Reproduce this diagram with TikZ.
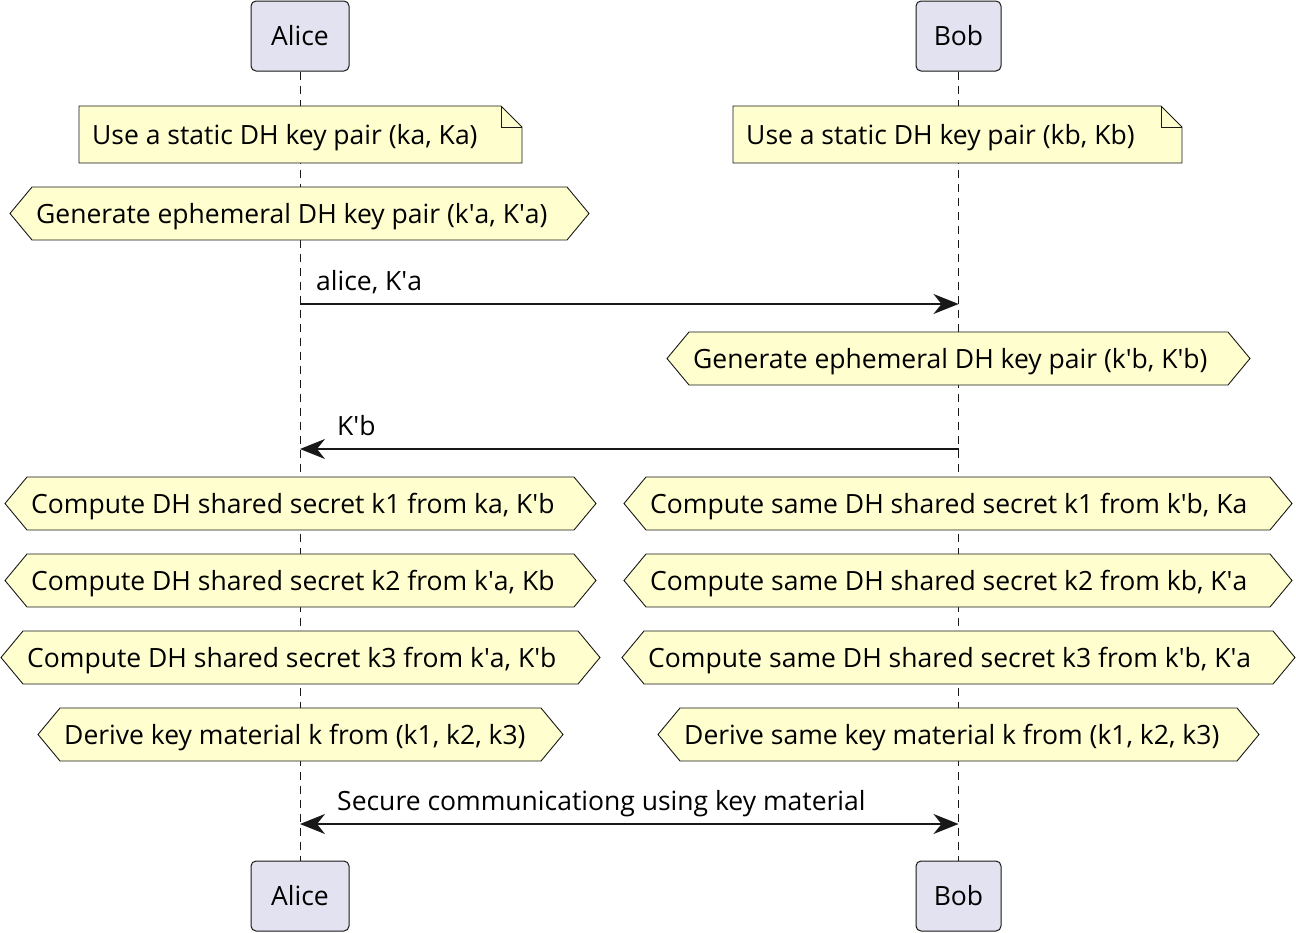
\documentclass[tikz,border=0pt]{standalone}
\usepackage{fontspec}
\setmainfont{Open Sans}
\usetikzlibrary{arrows.meta}
\definecolor{noteyellow}{HTML}{FEFECE}
\definecolor{partfill}{HTML}{E2E2F0}
\definecolor{linec}{HTML}{181818}
\newcommand{\q}{\textquotesingle}
\tikzset{
  txt/.style={inner sep=0pt, anchor=base west, font=\fontsize{26.5}{31}\selectfont, text=black},
  part/.style={draw=linec, fill=partfill, line width=1pt, rounded corners=5pt, inner sep=0pt, font=\fontsize{26.5}{31}\selectfont},
  lifeline/.style={draw=linec, line width=0.9pt, dash pattern=on 8pt off 6pt},
  shapeline/.style={draw=linec, fill=noteyellow, line width=0.9pt, line join=miter},
  msg/.style={draw=linec, line width=1.6pt, -{Stealth[length=25pt, width=20pt, inset=8pt]}},
  dmsg/.style={draw=linec, line width=1.6pt, {Stealth[length=25pt, width=20pt, inset=8pt]}-{Stealth[length=25pt, width=20pt, inset=8pt]}},
}
% name, x1, x2, yc, text
\newcommand{\hexnote}[5]{%
  \draw[shapeline] (#2,#4) -- (#2+22,#4-26.5) -- (#3-22,#4-26.5) -- (#3,#4) -- (#3-22,#4+26.5) -- (#2+22,#4+26.5) -- cycle;
  \node[txt] (#1) at (#2+26,#4+9.5) {#5};
}
% name, x1, x2, y1, y2, text
\newcommand{\foldnote}[6]{%
  \draw[shapeline] (#2,#4) -- (#3-21,#4) -- (#3,#4+21) -- (#3,#5) -- (#2,#5) -- cycle;
  \draw[draw=linec, line width=0.9pt] (#3-21,#4) -- (#3-21,#4+21) -- (#3,#4+21);
  \node[txt] (#1) at (#2+13,{(#4+#5)/2+9.5}) {#6};
}
\begin{document}
\begin{tikzpicture}[x=1pt, y=-1pt]
\useasboundingbox (0,0) rectangle (1296,932);
% participants
\node[part, minimum width=98pt, minimum height=70pt] (aliceTop) at (300,36) {Alice};
\node[part, minimum width=85pt, minimum height=70pt] (bobTop) at (958.5,36) {Bob};
\node[part, minimum width=98pt, minimum height=70pt] (aliceBot) at (300,896) {Alice};
\node[part, minimum width=85pt, minimum height=70pt] (bobBot) at (958.5,896) {Bob};
% lifelines
\draw[lifeline] (aliceTop.south) -- (aliceBot.north);
\draw[lifeline] (bobTop.south) -- (bobBot.north);
% notes
\foldnote{noteA}{79}{522}{106}{163}{Use a static DH key pair (ka, Ka)}
\foldnote{noteB}{733}{1182}{106}{163}{Use a static DH key pair (kb, Kb)}
\hexnote{genA}{10}{589}{213.5}{Generate ephemeral DH key pair (k\q a, K\q a)}
% message 1
\coordinate (m1a) at (aliceTop.south |- 0,304);
\coordinate (m1b) at (bobTop.south |- 0,304);
\draw[msg] (m1a) -- (m1b);
\node[txt] (l1) at (316,290) {alice, K\q a};
\hexnote{genB}{667}{1250}{358.5}{Generate ephemeral DH key pair (k\q b, K\q b)}
% message 2
\coordinate (m2a) at (aliceTop.south |- 0,449);
\coordinate (m2b) at (bobTop.south |- 0,449);
\draw[msg] (m2b) -- (m2a);
\node[txt] (l2) at (337,435) {K\q b};
% computations
\hexnote{k1A}{5}{596}{503.5}{Compute DH shared secret k1 from ka, K\q b}
\hexnote{k1B}{624}{1292}{503.5}{Compute same DH shared secret k1 from k\q b, Ka}
\hexnote{k2A}{5}{596}{580.5}{Compute DH shared secret k2 from k\q a, Kb}
\hexnote{k2B}{624}{1292}{580.5}{Compute same DH shared secret k2 from kb, K\q a}
\hexnote{k3A}{1}{600}{657.5}{Compute DH shared secret k3 from k\q a, K\q b}
\hexnote{k3B}{622}{1295}{657.5}{Compute same DH shared secret k3 from k\q b, K\q a}
\hexnote{kA}{38}{563}{734.5}{Derive key material k from (k1, k2, k3)}
\hexnote{kB}{658}{1259}{734.5}{Derive same key material k from (k1, k2, k3)}
% message 3
\coordinate (m3a) at (aliceTop.south |- 0,824);
\coordinate (m3b) at (bobTop.south |- 0,824);
\draw[dmsg] (m3a) -- (m3b);
\node[txt] (l3) at (337,810) {Secure communicationg using key material};
\end{tikzpicture}
\end{document}
